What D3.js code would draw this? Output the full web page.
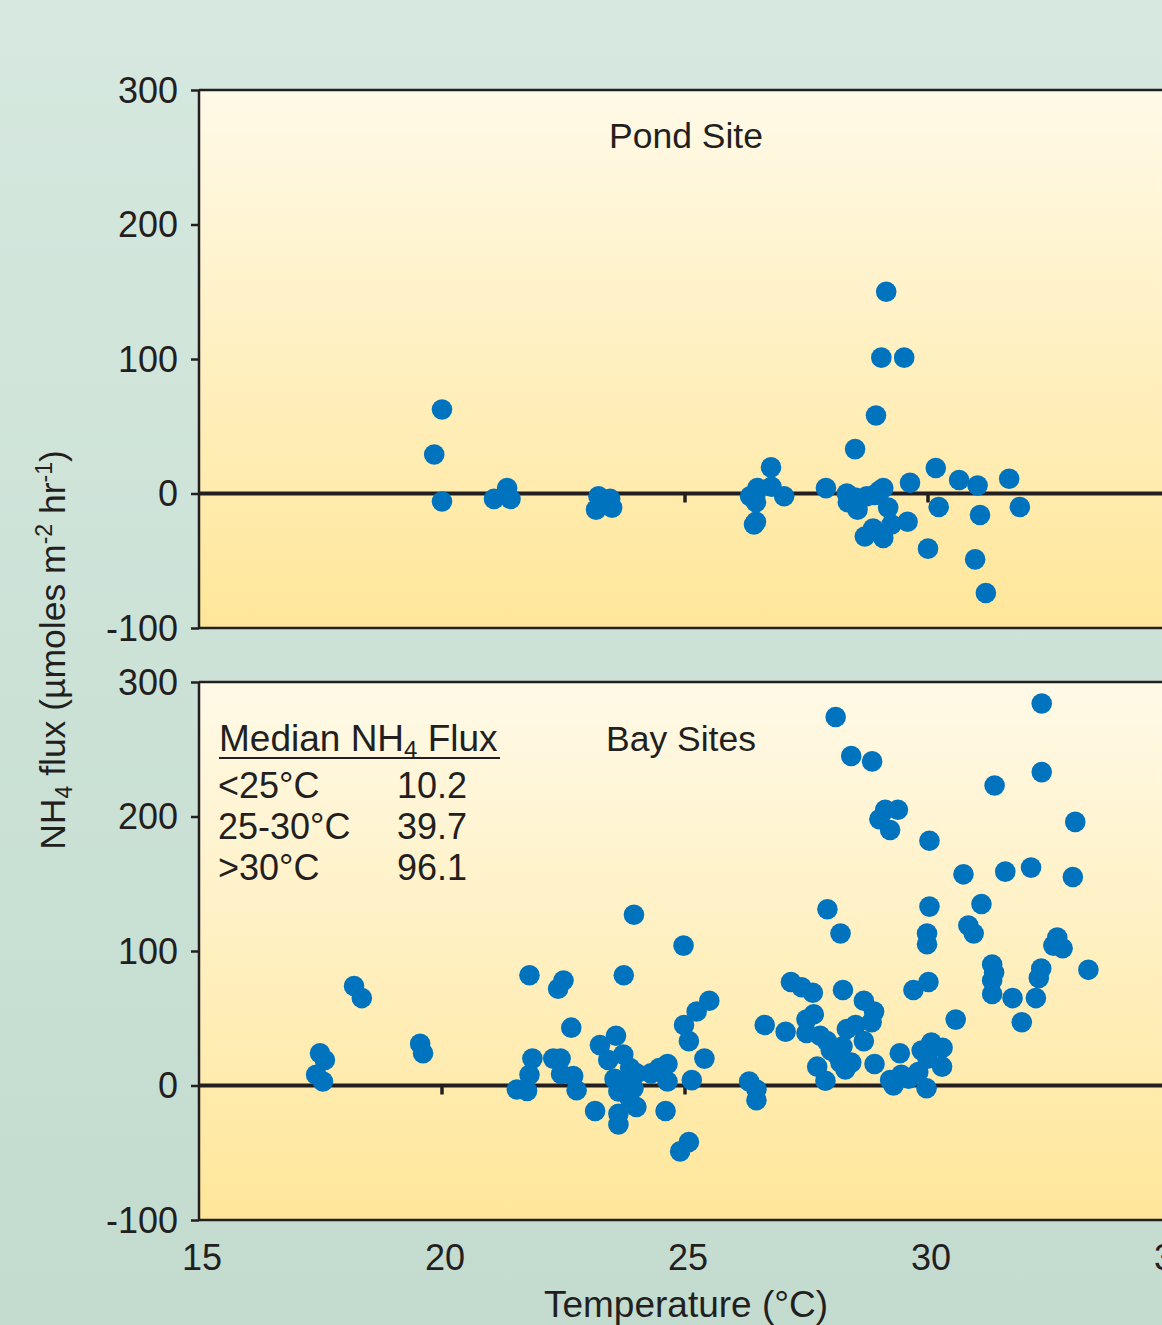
<!DOCTYPE html>
<html><head><meta charset="utf-8">
<script src="https://cdn.jsdelivr.net/npm/d3@7"></script>
<style>html,body{margin:0;padding:0;overflow:hidden}body{width:1162px;height:1325px}</style>
</head><body>
<svg id="c" width="1162" height="1325"></svg>
<script>
// ---- data ----
const xTicks = [15, 20, 25, 30, 35];
const yTicks = [-100, 0, 100, 200, 300];
const yTickLabels = ["-100", "0", "100", "200", "300"];
const pondTemp = [19.84,20.0,20.0,21.07,21.34,21.41,23.22,23.46,23.17,23.5,26.45,26.77,26.42,26.49,26.78,26.34,26.46,27.04,26.46,
  29.14,29.04,29.51,28.93,28.5,27.9,28.33,28.35,28.55,28.74,29.08,29.18,28.9,28.7,28.87,29.08,29.25,29.58,29.63,30.16,30.22,30.0,
  30.64,31.02,31.07,30.97,31.19,31.67,31.89,28.5,29.0];
const pondFlux = [29,62.5,-6,-4,4,-4,-2,-4,-12,-10.5,-1,19.4,-23,4,5,-2,-6.5,-2,-21,
  150,101,101,58,33,4,0,-6.5,-12,-2,4,-10.5,-1,-32,-26,-33,-23,-21,8,19,-10,-41,
  10,6,-16,-49,-74,11,-10,-3,2];
const bayTemp = [17.49,17.59,17.41,17.55,18.19,18.35,19.55,19.61,21.8,22.5,22.39,22.66,21.86,21.8,21.54,21.75,22.29,22.44,22.45,22.7,22.77,
  23.15,23.25,23.58,23.95,24.97,23.74,25.5,25.24,24.98,25.08,25.4,25.14,24.6,24.9,25.08,23.73,23.42,23.87,24.0,23.63,23.94,24.0,23.63,23.63,
  23.85,24.64,24.47,24.64,24.3,23.8,23.55,
  28.1,28.42,28.85,32.34,32.34,31.37,33.03,29.12,29.38,29.0,29.22,30.03,30.73,31.59,32.12,32.98,27.93,30.03,31.1,28.2,29.98,29.98,30.83,30.94,
  32.66,32.77,32.58,33.3,32.33,32.28,32.22,31.74,31.93,31.32,31.36,31.32,31.32,30.01,29.7,30.57,27.18,27.4,27.63,28.25,28.68,28.89,28.84,27.65,
  27.5,26.64,27.07,27.5,27.78,27.92,28.33,28.51,28.68,28.24,28.12,28.42,28.2,27.72,27.89,28.9,29.42,30.07,29.87,30.3,30.29,29.99,29.22,29.29,
  29.45,29.8,29.97,26.32,26.47,26.47,29.6,28.0,28.3];
const bayFlux = [24,19,8,3,74,65,31,24,82,78,72,43,20,8,-3,-4,20,20,8.5,7,-3.5,
  -19,30,37,127,104,82,63,55,45,33,20,4,-19,-49,-42,23,19,13,9,-4.5,-2,-16,-21,-29,
  -9,16,13,3,9,3,5,
  274,245,241,284,233,223,196,205,205,198,190,182,157,159,162,155,131,133,135,113,113,105,119,113,
  110,102,104,86,87,80,65,65,47,90,84,78,68,77,71,49,77,73,69,71,63,55,47,53,
  49,45,40,39,37,33,42,45,33,29,23,17,17,14,3.5,16,24,32,26,28,14,20,4,0,
  8,10,-2,3,-3,-11,5,26,12];
const panels = [
  {title: "Pond Site", temp: pondTemp, flux: pondFlux},
  {title: "Bay Sites", temp: bayTemp, flux: bayFlux}
];
const legendTitle = ["Median NH", "4", " Flux"];
const legendRows = [["<25°C", "10.2"], ["25-30°C", "39.7"], [">30°C", "96.1"]];

// ---- drawing ----
const svg = d3.select("#c");
const ink = "#231f20";
const font = "'Liberation Sans', Arial, Helvetica, sans-serif";
const defs = svg.append("defs");
const bg = defs.append("linearGradient").attr("id","bg").attr("x1",0).attr("y1",0).attr("x2",0).attr("y2",1);
bg.append("stop").attr("offset","0%").attr("stop-color","#d6e8df");
bg.append("stop").attr("offset","100%").attr("stop-color","#c3dccf");
const pg = defs.append("linearGradient").attr("id","pg").attr("x1",0).attr("y1",0).attr("x2",0).attr("y2",1);
pg.append("stop").attr("offset","0%").attr("stop-color","#fffae8");
pg.append("stop").attr("offset","100%").attr("stop-color","#ffe699");

svg.append("rect").attr("width",1162).attr("height",1325).attr("fill","url(#bg)");

const x = d3.scaleLinear().domain([15, 35]).range([199, 1171]);
const panelTops = [90, 682];
const panelH = 538;

panels.forEach((p, i) => {
  const top = panelTops[i];
  const y = d3.scaleLinear().domain([-100, 300]).range([top + panelH, top]);
  const g = svg.append("g");
  g.append("rect").attr("x", x(15)).attr("y", y(300)).attr("width", x(35) - x(15))
    .attr("height", y(-100) - y(300)).attr("fill", "url(#pg)");
  // zero line
  g.append("line").attr("x1", x(15)).attr("x2", x(35)).attr("y1", y(0)).attr("y2", y(0))
    .attr("stroke", ink).attr("stroke-width", 4);
  // minor ticks on zero line
  g.selectAll(".zt").data(xTicks.slice(1)).enter().append("line")
    .attr("x1", d => x(d)).attr("x2", d => x(d)).attr("y1", y(0)).attr("y2", y(0) + 9)
    .attr("stroke", ink).attr("stroke-width", 3.5);
  // frame: top, bottom
  g.append("line").attr("x1", x(15)).attr("x2", x(35)).attr("y1", y(300)).attr("y2", y(300)).attr("stroke", ink).attr("stroke-width", 2.5);
  g.append("line").attr("x1", x(15)).attr("x2", x(35)).attr("y1", y(-100)).attr("y2", y(-100)).attr("stroke", ink).attr("stroke-width", 2.5);
  // y axis
  const ya = d3.axisLeft(y).tickValues(yTicks).tickSize(8).tickPadding(13)
    .tickFormat((d, k) => yTickLabels[k]);
  const ag = g.append("g").attr("transform", `translate(${x(15)},0)`).call(ya);
  ag.select(".domain").attr("stroke", ink).attr("stroke-width", 2.5).attr("d", `M0,${y(300)}V${y(-100)}`);
  ag.selectAll(".tick line").attr("stroke", ink).attr("stroke-width", 2.5);
  ag.selectAll(".tick text").attr("fill", ink).style("font-family", font).style("font-size", "36px").attr("dy", "0.34em");
  // title
  g.append("text").attr("x", i === 0 ? 686 : 681).attr("y", i === 0 ? 148 : 751).attr("text-anchor", "middle")
    .attr("fill", ink).style("font-family", font).style("font-size", "35.5px").text(p.title);
  // dots
  g.selectAll("circle").data(p.temp.map((t, k) => [t, p.flux[k]])).enter().append("circle")
    .attr("cx", d => x(d[0])).attr("cy", d => y(d[1])).attr("r", 10.3).attr("fill", "#0073bf");
});

// x axis tick labels
svg.selectAll(".xl").data(xTicks).enter().append("text")
  .attr("x", d => x(d) + 3).attr("y", 1270).attr("text-anchor", "middle")
  .attr("fill", ink).style("font-family", font).style("font-size", "36px").text(d => d);

// x label
svg.append("text").attr("x", 686).attr("y", 1317).attr("text-anchor", "middle").attr("fill", ink)
  .style("font-family", font).style("font-size", "37px").text("Temperature (°C)");

// y label
const yl = svg.append("text").attr("transform", "translate(65,650) rotate(-90)").attr("text-anchor", "middle")
  .attr("fill", ink).style("font-family", font).style("font-size", "35.5px");
yl.append("tspan").text("NH");
yl.append("tspan").text("4").style("font-size", "23px").attr("dy", 7);
yl.append("tspan").text(" flux (µmoles m").attr("dy", -7);
yl.append("tspan").text("-2").style("font-size", "23px").attr("dy", -13);
yl.append("tspan").text(" hr").attr("dy", 13);
yl.append("tspan").text("-1").style("font-size", "23px").attr("dy", -13);
yl.append("tspan").text(")").attr("dy", 13);

// legend
const lt = svg.append("text").attr("x", 219).attr("y", 751).attr("fill", ink)
  .style("font-family", font).style("font-size", "37px");
lt.append("tspan").text(legendTitle[0]);
lt.append("tspan").text(legendTitle[1]).style("font-size", "24px").attr("dy", 7);
lt.append("tspan").text(legendTitle[2]).attr("dy", -7);
svg.append("line").attr("x1", 219).attr("x2", 500).attr("y1", 758).attr("y2", 758).attr("stroke", ink).attr("stroke-width", 2);
legendRows.forEach((r, k) => {
  const yy = 798 + k * 41;
  svg.append("text").attr("x", 218).attr("y", yy).attr("fill", ink).style("font-family", font).style("font-size", "36px").text(r[0]);
  svg.append("text").attr("x", 397).attr("y", yy).attr("fill", ink).style("font-family", font).style("font-size", "36px").text(r[1]);
});
</script>
</body></html>
